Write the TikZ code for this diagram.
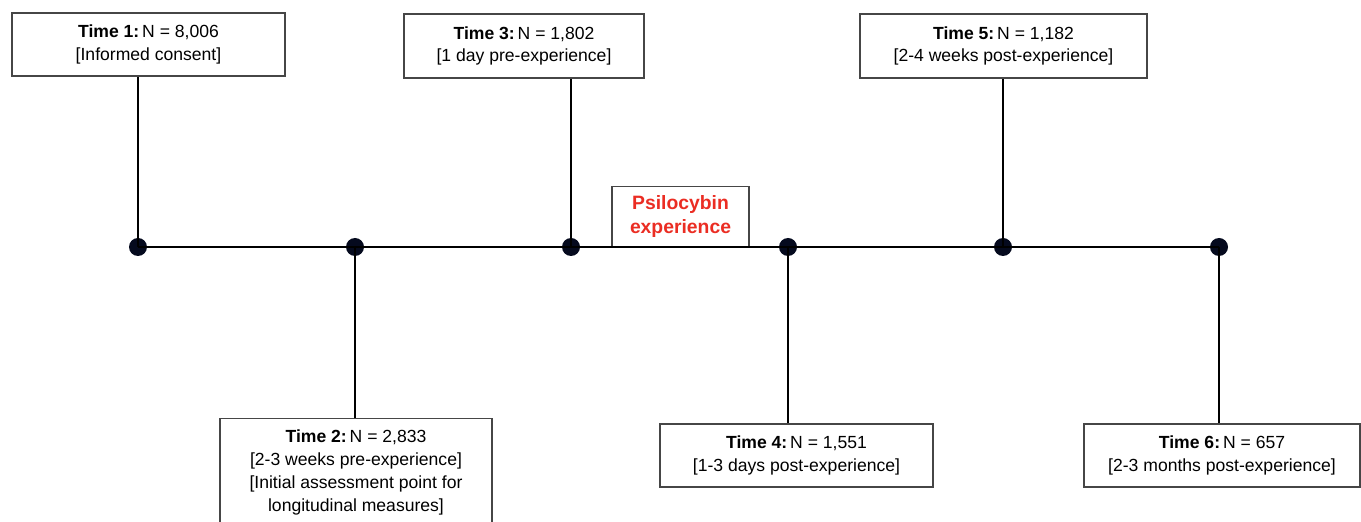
\documentclass[tikz,border=0pt]{standalone}
\usepackage{fontspec}
\setmainfont{Liberation Sans}
\usetikzlibrary{positioning}
\definecolor{PsiRed}{RGB}{235, 45, 35}
\definecolor{BoxGray}{RGB}{70, 70, 70}
\definecolor{DotNavy}{RGB}{5, 10, 30}

\begin{document}
\begin{tikzpicture}[
    timebox/.style={draw=BoxGray, line width=0.6pt, fill=white, align=center,
      font=\fontsize{10}{13}\selectfont, inner sep=2pt},
    tick/.style={line width=1.2pt},
    dot/.style={circle, fill=DotNavy, inner sep=0pt, minimum size=0.36cm}
  ]
    \useasboundingbox (0,0) rectangle (27.22,10.42);

    % Time points
    \node[dot] (d1) at (2.76, 5.48) {};
    \node[dot] (d2) at (7.10, 5.48) {};
    \node[dot] (d3) at (11.42, 5.48) {};
    \node[dot] (d4) at (15.76, 5.48) {};
    \node[dot] (d5) at (20.06, 5.48) {};
    \node[dot] (d6) at (24.38, 5.48) {};

    % Upper boxes
    \node[timebox, minimum width=5.46cm, minimum height=1.26cm] (t1) at (2.97, 9.53)
      {\textbf{Time 1:}\,N = 8,006\\{}[Informed consent]};
    \node[timebox, minimum width=4.80cm, minimum height=1.28cm] (t3) at (10.48, 9.50)
      {\textbf{Time 3:}\,N = 1,802\\{}[1 day pre-experience]};
    \node[timebox, minimum width=5.74cm, minimum height=1.28cm] (t5) at (20.07, 9.50)
      {\textbf{Time 5:}\,N = 1,182\\{}[2-4 weeks post-experience]};

    % Lower boxes
    \node[timebox, minimum width=5.44cm, minimum height=2.16cm, anchor=north] (t2) at (7.12, 2.06)
      {\textbf{Time 2:}\,N = 2,833\\{}[2-3 weeks pre-experience]\\{}[Initial assessment point for\\longitudinal measures]};
    \node[timebox, minimum width=5.46cm, minimum height=1.26cm] (t4) at (15.93, 1.31)
      {\textbf{Time 4:}\,N = 1,551\\{}[1-3 days post-experience]};
    \node[timebox, minimum width=5.52cm, minimum height=1.26cm] (t6) at (24.44, 1.31)
      {\textbf{Time 6:}\,N = 657\\{}[2-3 months post-experience]};

    % Psilocybin box sitting on the line
    \node[timebox, minimum width=2.74cm, minimum height=1.2cm, anchor=south,
      text=PsiRed, font=\fontsize{11}{14}\selectfont\bfseries] (psi) at (13.61, 5.48)
      {Psilocybin\\experience};

    % Timeline and stems
    \draw[tick] (d1.center) -- (d6.center);
    \draw[tick] (d1.center) -- (d1.center |- t1.south);
    \draw[tick] (d2.center) -- (d2.center |- t2.north);
    \draw[tick] (d3.center) -- (d3.center |- t3.south);
    \draw[tick] (d4.center) -- (d4.center |- t4.north);
    \draw[tick] (d5.center) -- (d5.center |- t5.south);
    \draw[tick] (d6.center) -- (d6.center |- t6.north);
\end{tikzpicture}
\end{document}
